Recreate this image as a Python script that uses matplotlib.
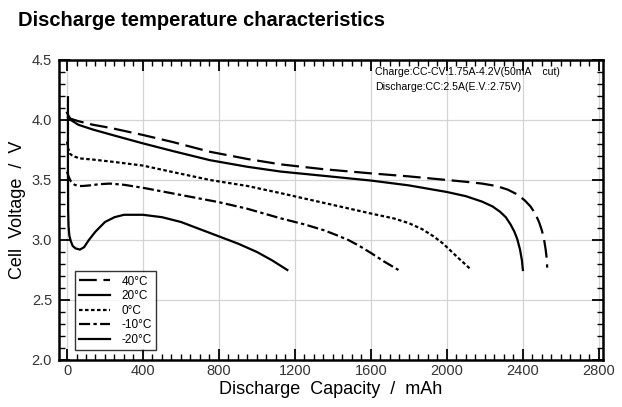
import matplotlib
matplotlib.use("Agg")
import matplotlib.pyplot as plt
from matplotlib.ticker import MultipleLocator

plt.rcParams['font.family'] = ['Liberation Sans', 'DejaVu Sans']

# discharge curves (capacity mAh, voltage V)
cap_40 = [0, 20, 60, 137, 226, 400, 560, 753, 950, 1126, 1350, 1602, 1800, 2000, 2100, 2185, 2260,
          2320, 2370, 2410, 2440, 2465, 2485, 2500, 2512, 2520, 2526, 2528]
volt_40 = [4.03, 4.01, 3.99, 3.96, 3.935, 3.875, 3.815, 3.735, 3.675, 3.63, 3.59, 3.555, 3.53, 3.50, 3.485, 3.47, 3.45,
           3.42, 3.38, 3.33, 3.28, 3.22, 3.15, 3.08, 3.00, 2.92, 2.84, 2.77]

cap_20 = [0, 20, 60, 137, 250, 400, 560, 753, 950, 1126, 1350, 1602, 1800, 2000, 2100, 2185, 2240,
          2280, 2310, 2335, 2355, 2370, 2385, 2395, 2400]
volt_20 = [4.06, 4.00, 3.96, 3.92, 3.87, 3.805, 3.74, 3.665, 3.61, 3.57, 3.535, 3.495, 3.455, 3.40, 3.365, 3.32, 3.28,
           3.235, 3.19, 3.13, 3.07, 3.01, 2.92, 2.83, 2.75]

cap_0 = [0, 5, 15, 30, 68, 137, 250, 400, 560, 753, 950, 1126, 1350, 1602, 1720, 1800, 1870, 1930,
         1980, 2020, 2060, 2095, 2122]
volt_0 = [3.82, 3.77, 3.72, 3.70, 3.68, 3.67, 3.65, 3.62, 3.565, 3.50, 3.45, 3.39, 3.31, 3.22, 3.18, 3.14, 3.09, 3.03,
          2.97, 2.91, 2.85, 2.80, 2.76]

cap_m10 = [0, 8, 20, 40, 60, 84, 120, 170, 226, 300, 400, 500, 650, 800, 950, 1126, 1250, 1355, 1420, 1481,
           1540, 1602, 1670, 1745]
volt_m10 = [3.57, 3.53, 3.49, 3.46, 3.45, 3.45, 3.455, 3.465, 3.47, 3.46, 3.435, 3.405, 3.36, 3.315, 3.26, 3.18, 3.13, 3.08, 3.04, 3.00,
            2.95, 2.89, 2.82, 2.75]

cap_m20 = [5, 5, 6, 8, 12, 20, 30, 45, 68, 90, 115, 150, 200, 250, 300, 400, 500, 600, 700, 800,
           900, 1000, 1080, 1160]
volt_m20 = [4.19, 3.60, 3.25, 3.12, 3.04, 2.99, 2.95, 2.93, 2.92, 2.94, 3.00, 3.07, 3.15, 3.19, 3.21, 3.21, 3.19, 3.15, 3.09, 3.03,
            2.97, 2.90, 2.83, 2.75]

labels = ['40°C', '20°C', '0°C', '-10°C', '-20°C']
x_ticks = [0, 400, 800, 1200, 1600, 2000, 2400, 2800]
y_ticks = [2.0, 2.5, 3.0, 3.5, 4.0, 4.5]

fig = plt.figure(figsize=(6.22, 4.07), dpi=100)
ax = fig.add_axes([0.0949, 0.1155, 0.8746, 0.7371])

lw = 1.6
style = dict(color='black', lw=lw, solid_joinstyle='round', dash_joinstyle='round')
ax.plot(cap_40, volt_40, linestyle=(0, (8, 3)), label=labels[0], **style)
ax.plot(cap_20, volt_20, linestyle='-', label=labels[1], **style)
ax.plot(cap_0, volt_0, linestyle=(0, (1.6, 1.1)), label=labels[2], **style)
ax.plot(cap_m10, volt_m10, linestyle=(0, (5, 1.5, 1.5, 1.5)), label=labels[3], **style)
ax.plot(cap_m20, volt_m20, linestyle='-', label=labels[4], **style)

ax.set_xlim(-42, 2822)
ax.set_ylim(2.0, 4.5)
ax.set_xticks(x_ticks)
ax.set_yticks(y_ticks)
ax.xaxis.set_minor_locator(MultipleLocator(50))
ax.yaxis.set_minor_locator(MultipleLocator(0.1))
ax.set_yticklabels([f"{v:.1f}" for v in y_ticks])
ax.grid(which='major', color='#d4d4d4', lw=0.9)
ax.set_axisbelow(True)

ax.tick_params(which='both', direction='in', top=True, right=True, colors='black',
               labelcolor='#333333', labelsize=10.5)
ax.tick_params(which='major', length=8, width=1.3)
ax.tick_params(which='minor', length=4, width=1.0)
ax.tick_params(axis='x', pad=3)
ax.tick_params(axis='y', pad=5)
for s in ax.spines.values():
    s.set_linewidth(1.8)

ax.set_xlabel('Discharge  Capacity  /  mAh', fontsize=13, labelpad=2)
ax.set_ylabel('Cell  Voltage  /  V', fontsize=13, labelpad=4)

fig.text(0.029, 0.95, 'Discharge temperature characteristics', fontsize=14.5,
         fontweight='bold', va='center', ha='left')

ax.text(0.581, 0.96, 'Charge:CC-CV:1.75A-4.2V(50mA    cut)', transform=ax.transAxes,
        fontsize=7.6, va='center', ha='left')
ax.text(0.581, 0.91, 'Discharge:CC:2.5A(E.V.:2.75V)', transform=ax.transAxes,
        fontsize=7.6, va='center', ha='left')

leg = ax.legend(loc='lower left', bbox_to_anchor=(0.029, 0.033), fontsize=8.5,
                frameon=True, fancybox=False, handlelength=2.6, handletextpad=1.0,
                labelspacing=0.22, borderpad=0.35, borderaxespad=0)
leg.get_frame().set_edgecolor('black')
leg.get_frame().set_linewidth(1.0)

fig.savefig('out.png', dpi=100)
